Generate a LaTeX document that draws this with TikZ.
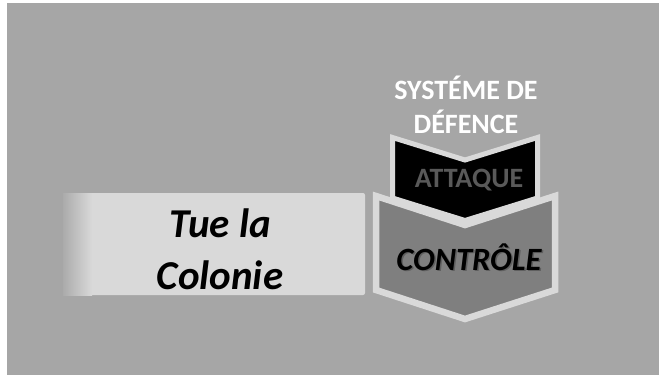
\documentclass[tikz,border=0pt]{standalone}
\usepackage{fontspec}
\setmainfont{Carlito}
\usetikzlibrary{positioning}
\definecolor{fond}{HTML}{A6A6A6}
\definecolor{clair}{HTML}{D9D9D9}
\definecolor{moyen}{HTML}{7F7F7F}
\definecolor{sombre}{HTML}{595959}

\begin{document}
\begin{tikzpicture}[
	x=1pt, y=-1pt,
	bord/.style={draw=clair, line width=6.5pt, line join=miter},
	titre/.style={text=white, align=center, font=\bfseries\fontsize{28}{34}\selectfont},
	etiquette/.style={align=center, font=\bfseries\itshape\fontsize{41}{52}\selectfont}
]
	\useasboundingbox (0,0) rectangle (659,375);
	\fill[white] (0,0) rectangle (659,375);
	\fill[fond] (7,3) rectangle (659,375);

	% bandeau de gauche
	\fill[clair, rounded corners=2pt] (63,193) rectangle (365,295);
	\shade[left color=fond!90!clair, right color=clair] (63,193) rectangle (92,295);
	\node[etiquette] (tue) at (220,249) {Tue la\\Colonie};

	% chevron du bas
	\draw[bord, fill=moyen]
		(376,196) -- (465,225) -- (555,196) -- (555,290)
		-- (465,319) -- (376,290) -- cycle;
	% chevron du haut
	\draw[bord, line width=5pt, fill=black]
		(392.5,137.5) -- (465,160) -- (537.5,137.5) -- (537.5,198)
		-- (465,220.5) -- (392.5,198) -- cycle;

	\node[titre] (systeme) at (466,105) {SYSTÉME DE\\DÉFENCE};
	\node[text=sombre, font=\bfseries\fontsize{28}{32}\selectfont] (attaque) at (469,180) {ATTAQUE};
	\node[text=black, opacity=0.25, font=\bfseries\itshape\fontsize{32.5}{36}\selectfont]
		at (470.5,258.5) {CONTRÔLE};
	\node[font=\bfseries\itshape\fontsize{32.5}{36}\selectfont] (controle) at (469,257) {CONTRÔLE};
\end{tikzpicture}
\end{document}
